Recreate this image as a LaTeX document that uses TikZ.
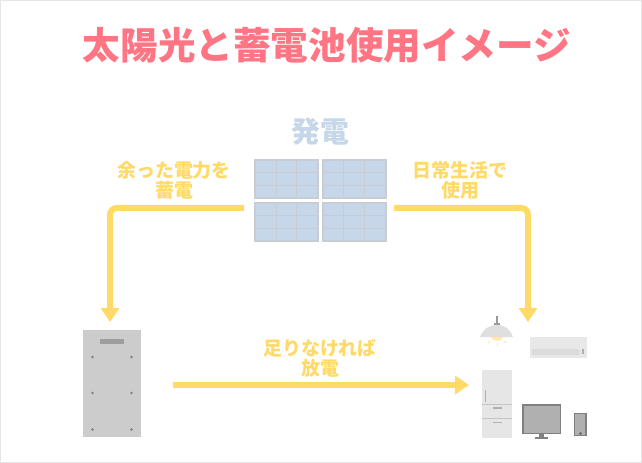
\documentclass[tikz,border=0pt]{standalone}
\usepackage{fontspec}
\setmainfont{Noto Sans CJK JP}
\usetikzlibrary{arrows.meta,calc}
\definecolor{ttl}{HTML}{FF7583}
\definecolor{sol}{HTML}{C5D7E8}
\definecolor{solline}{HTML}{C8CDD3}
\definecolor{yel}{HTML}{FFDA68}
\definecolor{bat}{HTML}{CCCCCC}
\definecolor{app}{HTML}{E6E6E6}
\definecolor{scr}{HTML}{B0B0B0}
\definecolor{frm}{HTML}{808080}
\tikzset{
  x=0.75pt,y=-0.75pt,
  box/.style={inner sep=0pt,outer sep=0pt,anchor=north west},
  panel/.style={box,draw=solline,line width=1.5pt,fill=sol,minimum width=47.25pt,minimum height=28.5pt},
  grid/.style={draw=solline,line width=0.7pt},
  lbl/.style={text=yel,font=\fontsize{14.2}{15}\selectfont\bfseries,align=center},
  conn/.style={draw=yel,line width=4.5pt,rounded corners=5pt,-{Triangle[length=10.5pt,width=13.5pt]}},
}
\begin{document}
\begin{tikzpicture}
\useasboundingbox (0,0) rectangle (642,463);
\draw[draw=app,line width=1.1pt,fill=white] (0.7,0.7) rectangle (641.3,462.3);
\node[text=ttl,font=\fontsize{28.2}{34}\selectfont\bfseries] (title) at (327,45) {太陽光と蓄電池使用イメージ};
\node[text=sol,font=\fontsize{21.6}{26}\selectfont\bfseries] (gen) at (320,132) {発電};
% solar panels
\node[panel] (p1) at (255,160) {};
\node[panel] (p2) at (322.5,160) {};
\node[panel] (p3) at (255,203) {};
\node[panel] (p4) at (322.5,203) {};
\foreach \n in {p1,p2,p3,p4}{
  \path[grid] ($(\n.north west)!0.34!(\n.north east)$) -- ($(\n.south west)!0.34!(\n.south east)$);
  \path[grid] ($(\n.north west)!0.66!(\n.north east)$) -- ($(\n.south west)!0.66!(\n.south east)$);
  \path[grid] ($(\n.north west)!0.33!(\n.south west)$) -- ($(\n.north east)!0.33!(\n.south east)$);
  \path[grid] ($(\n.north west)!0.66!(\n.south west)$) -- ($(\n.north east)!0.66!(\n.south east)$);
}
% labels
\node[lbl] (l1) at (174,180) {余った電力を\\蓄電};
\node[lbl] (l2) at (460,180) {日常生活で\\使用};
\node[lbl] (l3) at (320,358) {足りなければ\\放電};
% battery
\node[box,fill=bat,minimum width=43.5pt,minimum height=80.2pt] (battery) at (83,330) {};
\fill[fill=scr!90!black] (100,339) rectangle (124,343.5);
\foreach \yy in {357,393,429.5}\foreach \xx in {92.5,131.5}{
  \fill[frm] (\xx,\yy) circle (1pt);
}
% lamp
\draw[frm!80!white,line width=0.8pt] (497,316) -- (497,324);
\fill[frm!80!white] (494,323) rectangle (500,326);
\fill[app!97!black] (480,337) .. controls (483,329) and (489,325) .. (497,325) .. controls (505,325) and (510,329) .. (513,337) -- cycle;
\fill[yel!60!white] (491,337) .. controls (492,342) and (502,342) .. (503,337) -- cycle;
\foreach \a/\b/\c/\d in {490/341/488/343,497/343/497/346,504/341/506/343}{
  \draw[yel!60!white,line width=0.6pt] (\a,\b) -- (\c,\d);
}
% air conditioner
\node[box,fill=app!90!white,minimum width=43pt,minimum height=16pt] (ac) at (529.5,337) {};
\fill[app!95!black] (532,349) rectangle (579,355);
\fill[scr] (581.5,349) rectangle (584,354);
% fridge
\node[box,fill=app,minimum width=22.5pt,minimum height=51pt] (fridge) at (482,370) {};
\draw[app!85!black,line width=0.7pt] (482,404) -- (512,404) (482,418.5) -- (512,418.5);
\draw[scr,line width=0.9pt] (485.5,390) -- (485.5,402);
\draw[scr,line width=0.9pt] (492.5,408) -- (502,408) (492.5,422.5) -- (502,422.5);
% tv
\node[box,fill=scr,draw=frm,line width=1.2pt,minimum width=28pt,minimum height=21.5pt] (tv) at (523,405) {};
\fill[frm] (539,434) rectangle (544,437);
\fill[frm] (535,437) rectangle (548,438.7);
% phone
\node[box,fill=scr,draw=frm,line width=1pt,minimum width=8.6pt,minimum height=16.4pt] (phone) at (574.5,413.5) {};
\fill[frm!70!black] (580.5,433.5) circle (1.1pt);
% connectors
\coordinate (a1) at (244,208);
\coordinate (b1) at (110,208);
\coordinate (c1) at (110,322);
\coordinate (a2) at (394,208);
\coordinate (b2) at (528,208);
\coordinate (c2) at (528,322);
\coordinate (a3) at (173,385);
\coordinate (c3) at (469,385);
\path[conn] (a1) -- (b1) -- (c1);
\path[conn] (a2) -- (b2) -- (c2);
\path[conn,rounded corners=0pt] (a3) -- (c3);
\end{tikzpicture}
\end{document}
